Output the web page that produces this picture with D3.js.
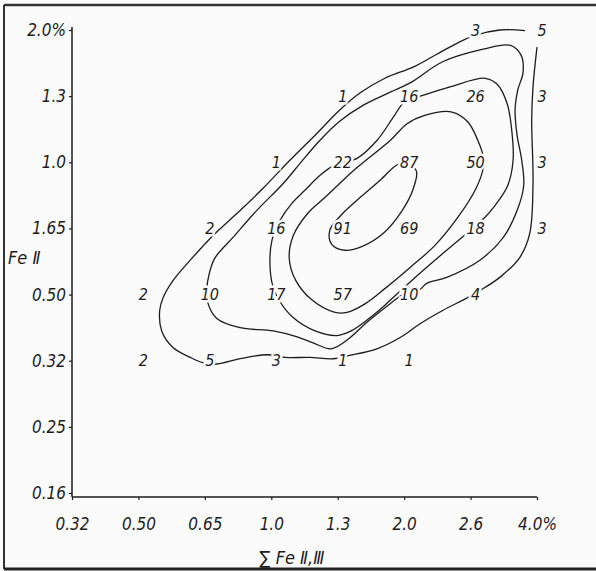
<!DOCTYPE html>
<html>
<head>
<meta charset="utf-8">
<script src="https://cdn.jsdelivr.net/npm/d3@7"></script>
<style>
  body { margin: 0; background: #fbfbfb; }
  svg { display: block; }
  .lbl { font-family: "Liberation Sans Narrow", "DejaVu Sans Condensed", sans-serif; font-style: italic; }
</style>
</head>
<body>
<script>
// axis tick labels (categories are evenly spaced on the drawing)
var xLabels = ['0.32', '0.50', '0.65', '1.0', '1.3', '2.0', '2.6', '4.0%'];
var yLabels = ['0.16', '0.25', '0.32', '0.50', '1.65', '1.0', '1.3', '2.0%'];

// counts written at grid points: [column, row, value]
var cells = [
	[6, 7, 3], [7, 7, 5],
	[4, 6, 1], [5, 6, 16], [6, 6, 26], [7, 6, 3],
	[3, 5, 1], [4, 5, 22], [5, 5, 87], [6, 5, 50], [7, 5, 3],
	[2, 4, 2], [3, 4, 16], [4, 4, 91], [5, 4, 69], [6, 4, 18], [7, 4, 3],
	[1, 3, 2], [2, 3, 10], [3, 3, 17], [4, 3, 57], [5, 3, 10], [6, 3, 4],
	[1, 2, 2], [2, 2, 5], [3, 2, 3], [4, 2, 1], [5, 2, 1]
];

// hand drawn isolines, traced in grid units [column, row]
var contourA = [[6.82,6.99],[6.44,7.0],[6.04,6.91],[5.61,6.70],[5.16,6.45],[4.71,6.27],[4.34,6.05],
	[4.03,5.79],[3.69,5.44],[3.28,5.03],[2.88,4.61],[2.53,4.27],[2.12,3.89],[1.78,3.52],[1.52,3.21],
	[1.37,2.95],[1.32,2.76],[1.35,2.45],[1.52,2.20],[1.78,2.05],[1.97,1.97],[2.18,1.95],[2.53,2.03],
	[2.94,2.09],[3.21,2.05],[3.58,2.05],[3.93,2.03],[4.18,2.08],[4.59,2.18],[4.94,2.35],[5.24,2.56],
	[5.58,2.76],[5.95,2.95],[6.14,3.06],[6.44,3.26],[6.74,3.56],[6.89,3.92],[6.94,4.68],[6.92,5.64],
	[6.94,6.14],[7.0,6.74]];
var contourB = [[2.03,3.09],[2.06,3.29],[2.15,3.55],[2.42,3.86],[2.78,4.27],[3.18,4.68],[3.43,4.98],
	[3.73,5.33],[4.03,5.62],[4.38,5.86],[4.79,6.06],[5.09,6.20],[5.58,6.52],[6.19,6.71],[6.59,6.77],
	[6.76,6.62],[6.79,6.36],[6.71,6.09],[6.67,5.79],[6.70,5.41],[6.77,5.03],[6.80,4.65],[6.70,4.27],
	[6.49,3.86],[6.14,3.52],[5.64,3.26],[5.34,3.17],[5.24,3.08],[4.98,3.00],[4.79,2.86],[4.44,2.58],
	[4.15,2.32],[3.90,2.18],[3.63,2.27],[3.39,2.36],[3.03,2.45],[2.53,2.50],[2.18,2.64],[2.05,2.86]];
var contourC = [[5.01,5.92],[5.19,5.98],[5.69,6.14],[6.22,6.27],[6.40,6.18],[6.55,5.89],[6.62,5.48],
	[6.64,5.03],[6.56,4.65],[6.37,4.35],[6.17,4.12],[5.96,3.94],[5.64,3.67],[5.28,3.36],[4.97,3.08],
	[4.71,2.84],[4.46,2.63],[4.20,2.45],[3.99,2.38],[3.66,2.45],[3.32,2.66],[3.12,2.91],[3.02,3.14],
	[2.98,3.47],[3.01,3.82],[3.13,4.12],[3.31,4.38],[3.51,4.58],[3.73,4.80],[3.99,4.98],[4.29,5.06],
	[4.59,5.33],[4.83,5.67]];
var contourD = [[6.19,4.91],[6.07,4.58],[5.81,4.17],[5.46,3.74],[5.09,3.41],[4.71,3.09],[4.41,2.86],
	[4.14,2.73],[3.96,2.73],[3.61,2.92],[3.37,3.21],[3.27,3.55],[3.33,3.89],[3.55,4.23],[3.81,4.47],
	[4.29,4.92],[4.79,5.33],[5.04,5.58],[5.31,5.71],[5.72,5.76],[5.96,5.61],[6.11,5.33],[6.19,5.09]];
var contourE = [[4.94,4.98],[4.64,4.73],[4.34,4.47],[4.06,4.21],[3.88,3.97],[3.91,3.76],[4.11,3.67],
	[4.37,3.73],[4.70,3.94],[4.97,4.27],[5.13,4.58],[5.18,4.88]];

var width = 596,
	height = 571;

var svg = d3.select('body').append('svg')
	.attr('width', width)
	.attr('height', height);

var xScale = d3.scaleLinear().domain([0, 7]).range([72, 537]),
	yScale = d3.scaleLinear().domain([0, 7]).range([493, 30]);

var ink = '#1c1c1c';
var baseY = yScale(0) + 4;

// frame of the scanned sheet
svg.append('line').attr('x1', 4).attr('x2', width).attr('y1', 5).attr('y2', 5)
	.attr('stroke', '#333').attr('stroke-width', 2.5);
svg.append('line').attr('x1', 4).attr('x2', 4).attr('y1', 5).attr('y2', 569)
	.attr('stroke', '#333').attr('stroke-width', 2);
svg.append('line').attr('x1', 4).attr('x2', width).attr('y1', 569).attr('y2', 569)
	.attr('stroke', '#222').attr('stroke-width', 3);

// axes
var xAxis = d3.axisBottom(xScale)
	.tickValues(d3.range(8))
	.tickFormat(function(i) { return xLabels[i]; })
	.tickSize(3)
	.tickSizeOuter(0)
	.tickPadding(18);

var yAxis = d3.axisLeft(yScale)
	.tickValues(d3.range(8))
	.tickFormat(function(i) { return yLabels[i]; })
	.tickSize(3)
	.tickSizeOuter(0)
	.tickPadding(3);

var gx = svg.append('g')
	.attr('class', 'axis axis--x')
	.attr('transform', 'translate(0,' + baseY + ')')
	.call(xAxis);

var gy = svg.append('g')
	.attr('class', 'axis axis--y')
	.attr('transform', 'translate(' + xScale(0) + ',0)')
	.call(yAxis);

[gx, gy].forEach(function(g) {
	g.select('.domain').remove();
	g.selectAll('line').attr('stroke', ink).attr('stroke-width', 1.2);
	g.selectAll('text')
		.attr('class', 'lbl')
		.attr('font-size', 17)
		.attr('fill', ink);
});

svg.append('line')
	.attr('x1', xScale(0)).attr('x2', xScale(0))
	.attr('y1', yScale(7) - 3).attr('y2', baseY)
	.attr('stroke', ink).attr('stroke-width', 1.5);
svg.append('line')
	.attr('x1', xScale(0)).attr('x2', xScale(7))
	.attr('y1', baseY).attr('y2', baseY)
	.attr('stroke', ink).attr('stroke-width', 1.5);

// axis titles
svg.append('text')
	.attr('class', 'lbl')
	.attr('x', 8).attr('y', 264)
	.attr('font-size', 18)
	.attr('fill', ink)
	.text('Fe \u2161');

svg.append('text')
	.attr('class', 'lbl')
	.attr('x', 292).attr('y', 564)
	.attr('text-anchor', 'middle')
	.attr('font-size', 18)
	.attr('fill', ink)
	.text('\u2211 Fe \u2161,\u2162');

// isolines
var line = d3.line()
	.x(function(d) { return xScale(d[0]); })
	.y(function(d) { return yScale(d[1]); });

svg.append('path')
	.datum(contourA)
	.attr('d', line.curve(d3.curveCatmullRom.alpha(0.5)))
	.attr('fill', 'none')
	.attr('stroke', ink)
	.attr('stroke-width', 1.3);

svg.selectAll('.iso')
	.data([contourB, contourC, contourD, contourE])
	.enter().append('path')
	.attr('class', 'iso')
	.attr('d', line.curve(d3.curveCatmullRomClosed.alpha(0.5)))
	.attr('fill', 'none')
	.attr('stroke', ink)
	.attr('stroke-width', 1.3);

// numbers at grid points, white halo breaks the lines like in the drawing
svg.selectAll('.cell')
	.data(cells)
	.enter().append('text')
	.attr('class', 'cell lbl')
	.attr('x', function(d) { return xScale(d[0]) + 5; })
	.attr('y', function(d) { return yScale(d[1]); })
	.attr('dy', '0.36em')
	.attr('text-anchor', 'middle')
	.attr('font-size', 16)
	.attr('fill', ink)
	.attr('stroke', '#fbfbfb')
	.attr('stroke-width', 5)
	.attr('paint-order', 'stroke')
	.text(function(d) { return d[2]; });
</script>
</body>
</html>
